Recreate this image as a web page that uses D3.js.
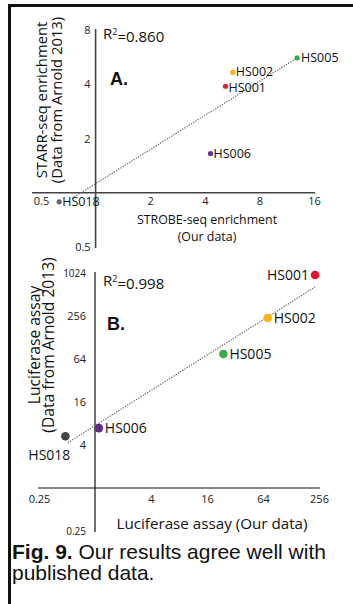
<!DOCTYPE html>
<html>
<head>
<meta charset="utf-8">
<script src="https://cdn.jsdelivr.net/npm/d3@7"></script>
<style>
  body { margin: 0; background: #fff; }
  svg { display: block; }
</style>
</head>
<body>
<div id="fig"></div>
<script>
////////////////////////////////////////////////////////////
//////////////////////// Data //////////////////////////////
////////////////////////////////////////////////////////////

var genes = ["HS001", "HS002", "HS005", "HS006", "HS018"];

// Panel A: STROBE-seq (ours) vs STARR-seq (Arnold 2013)
var strobeSeq = [5.2, 5.7, 12.9, 4.3, 0.63];
var starrSeq = [3.9, 4.65, 5.6, 1.65, 0.89];

// Panel B: luciferase assay, ours vs Arnold 2013
var lucOurs = [232, 72, 24, 1.1, 0.48];
var lucArnold = [960, 240, 75, 6.9, 5.3];

// fitted trend lines (end points)
var fitA = [[0.74, 0.93], [12.9, 5.6]];
var fitB = [[0.51, 4.3], [232, 650]];

var r2 = ["0.860", "0.998"];

var ticksAx = [0.5, 2, 4, 8, 16];
var ticksAy = [0.5, 2, 4, 8];
var ticksBx = [0.25, 4, 16, 64, 256];
var ticksBy = [0.25, 4, 16, 64, 256, 1024];

////////////////////////////////////////////////////////////
//////////////////////// Set-up ////////////////////////////
////////////////////////////////////////////////////////////

var width = 353, height = 604;
var font = "'Open Sans', sans-serif";

var colorA = { HS001: "#e41f2b", HS002: "#fbb515", HS005: "#3bab4a", HS006: "#6a2e8f", HS018: "#666666" };
var colorB = { HS001: "#e8112d", HS002: "#fbb515", HS005: "#3bab4a", HS006: "#5f2a88", HS018: "#444444" };

// label offsets relative to each dot
var labelA = { HS001: [3, 1, "start"], HS002: [3, -1, "start"], HS005: [4, 0, "start"], HS006: [3, 0, "start"], HS018: [3, 0, "start"] };
var labelB = { HS001: [-6, 0, "end"], HS002: [6, 0, "start"], HS005: [6, 0, "start"], HS006: [6, 0, "start"], HS018: [-16, 19, "middle"] };

var svg = d3.select("#fig").append("svg")
    .attr("width", width)
    .attr("height", height);

//Frame
svg.append("line").attr("x1", 8).attr("x2", width).attr("y1", 5.5).attr("y2", 5.5)
    .style("stroke", "#111").style("stroke-width", 3);
svg.append("line").attr("x1", 9.5).attr("x2", 9.5).attr("y1", 4).attr("y2", height)
    .style("stroke", "#111").style("stroke-width", 3);

////////////////////////////////////////////////////////////
//////////////////////// Panels ////////////////////////////
////////////////////////////////////////////////////////////

function drawPanel(opt) {
    var x = opt.x, y = opt.y;
    var g = svg.append("g");

    //X axis, crossing at 1
    var gx = g.append("g")
        .attr("transform", "translate(0," + y(1) + ")")
        .call(d3.axisBottom(x).tickValues(opt.xTicks).tickSize(0).tickSizeOuter(0)
            .tickPadding(opt.xPad).tickFormat(function (d) { return d; }));
    gx.select(".domain").attr("d", "M" + (x.range()[0] - opt.xExt) + ",0H" + (x.range()[1] + 1))
        .style("stroke", opt.axisColor).style("stroke-width", opt.axisWidth);
    gx.selectAll("text").style("font-family", font).style("font-size", opt.tickSize + "px").style("fill", "#222");

    //Y axis, crossing at 1
    var gy = g.append("g")
        .attr("transform", "translate(" + x(1) + ",0)")
        .call(d3.axisLeft(y).tickValues(opt.yTicks).tickSize(0).tickSizeOuter(0)
            .tickPadding(opt.yPad).tickFormat(function (d) { return d; }));
    gy.select(".domain").attr("d", "M0," + (y.range()[0] + 1) + "V" + (y.range()[1] - 1))
        .style("stroke", opt.axisColor).style("stroke-width", opt.axisWidth);
    gy.selectAll("text").style("font-family", font).style("fill", "#222")
        .style("font-size", function (d) { return (opt.yTickSize[d] || opt.tickSize) + "px"; });

    //Trend line
    g.append("path")
        .datum(opt.fit)
        .attr("d", d3.line().x(function (d) { return x(d[0]); }).y(function (d) { return y(d[1]); }))
        .style("fill", "none")
        .style("stroke", "#666")
        .style("stroke-width", 1.2)
        .style("stroke-dasharray", "1.3,1.3");

    var pts = genes.map(function (name, i) { return { name: name, x: opt.xs[i], y: opt.ys[i] }; });

    g.selectAll(".dot").data(pts).enter().append("circle")
        .attr("cx", function (d) { return x(d.x); })
        .attr("cy", function (d) { return y(d.y); })
        .attr("r", opt.r)
        .style("fill", function (d) { return opt.colors[d.name]; });

    g.selectAll(".lbl").data(pts).enter().append("text")
        .attr("x", function (d) { return x(d.x) + opt.labels[d.name][0]; })
        .attr("y", function (d) { return y(d.y) + opt.labels[d.name][1]; })
        .attr("dy", "0.36em")
        .style("text-anchor", function (d) { return opt.labels[d.name][2]; })
        .style("font-family", font)
        .style("font-size", opt.labelSize + "px")
        .style("fill", "#111")
        .text(function (d) { return d.name; });

    //R squared
    var r = g.append("text")
        .attr("x", opt.r2Pos[0]).attr("y", opt.r2Pos[1])
        .style("font-family", font).style("font-size", "15px").style("fill", "#111");
    r.append("tspan").text("R");
    r.append("tspan").attr("dy", "-0.45em").style("font-size", "9px").text("2");
    r.append("tspan").attr("dy", "0.45em").text("=" + opt.r2);

    //Panel letter
    g.append("text")
        .attr("x", opt.letterPos[0]).attr("y", opt.letterPos[1])
        .style("font-family", "'Liberation Sans', Arial, sans-serif")
        .style("font-weight", "bold").style("font-size", "18px").style("fill", "#111")
        .text(opt.letter);

    //Axis titles
    opt.xTitle.forEach(function (t, i) {
        g.append("text")
            .attr("x", opt.xTitlePos[0]).attr("y", opt.xTitlePos[1] + i * opt.xTitleGap)
            .style("text-anchor", "middle")
            .style("font-family", font).style("font-size", opt.xTitleSize + "px").style("fill", "#111")
            .text(t);
    });
    opt.yTitle.forEach(function (t, i) {
        g.append("text")
            .attr("transform", "translate(" + opt.yTitleX[i] + "," + opt.yTitleY + ") rotate(-90)")
            .attr("dy", "0.36em")
            .style("text-anchor", "middle")
            .style("font-family", font).style("font-size", opt.yTitleSize + "px").style("fill", "#111")
            .text(t);
    });
}

drawPanel({
    x: d3.scaleLog().base(2).domain([0.5, 16]).range([41, 314]),
    y: d3.scaleLog().base(2).domain([0.5, 8]).range([247, 30]),
    xs: strobeSeq, ys: starrSeq, fit: fitA, r2: r2[0],
    xTicks: ticksAx, yTicks: ticksAy,
    xPad: 4, yPad: 5, xExt: 9, tickSize: 11, yTickSize: {},
    axisColor: "#444", axisWidth: 1.6,
    r: 2.6, colors: colorA, labels: labelA, labelSize: 12.5,
    r2Pos: [103, 39], letter: "A.", letterPos: [110, 85],
    xTitle: ["STROBE-seq enrichment", "(Our data)"], xTitlePos: [207, 224], xTitleGap: 17, xTitleSize: 12.4,
    yTitle: ["STARR-seq enrichment", "(Data from Arnold 2013)"], yTitleX: [42, 57], yTitleY: 100, yTitleSize: 14.8
});

drawPanel({
    x: d3.scaleLog().base(2).domain([0.25, 256]).range([39, 319]),
    y: d3.scaleLog().base(2).domain([0.25, 1024]).range([531, 273]),
    xs: lucOurs, ys: lucArnold, fit: fitB, r2: r2[1],
    xTicks: ticksBx, yTicks: ticksBy,
    xPad: 7, yPad: 9, xExt: 1, tickSize: 11, yTickSize: { 1024: 10, 0.25: 10 },
    axisColor: "#111", axisWidth: 1.2,
    r: 4.3, colors: colorB, labels: labelB, labelSize: 14,
    r2Pos: [103, 286], letter: "B.", letterPos: [107, 330],
    xTitle: ["Luciferase assay (Our data)"], xTitlePos: [212, 529], xTitleGap: 0, xTitleSize: 15.2,
    yTitle: ["Luciferase assay", "(Data from Arnold 2013)"], yTitleX: [34, 48], yTitleY: 345, yTitleSize: 15.6
});

////////////////////////////////////////////////////////////
//////////////////////// Caption ///////////////////////////
////////////////////////////////////////////////////////////

var cap = svg.append("g")
    .style("font-family", "'Liberation Sans', Arial, sans-serif")
    .style("font-size", "21px")
    .style("fill", "#111");

var line1 = cap.append("text").attr("x", 12).attr("y", 559);
line1.append("tspan").style("font-weight", "bold").text("Fig. 9.");
line1.append("tspan").text(" Our results agree well with");
cap.append("text").attr("x", 12).attr("y", 580).text("published data.");
</script>
</body>
</html>
